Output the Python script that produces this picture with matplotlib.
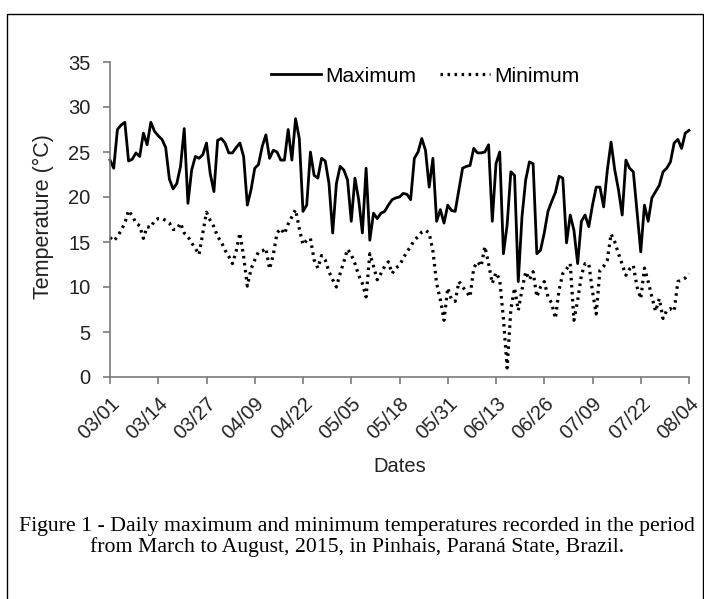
import numpy as np
import matplotlib
matplotlib.use("Agg")
import matplotlib.pyplot as plt
from matplotlib.patches import Rectangle

# daily values, 03/01 .. 08/04 (2015)
t_max = [
    24.1, 23.2, 27.5, 28.0, 28.3, 24.0, 24.2, 24.9, 24.5, 27.1,
    25.8, 28.3, 27.3, 26.8, 26.4, 25.5, 22.0, 20.9, 21.5, 23.4,
    27.6, 19.3, 23.0, 24.5, 24.3, 24.7, 26.0, 22.6, 20.6, 26.3,
    26.5, 26.0, 24.9, 24.9, 25.5, 26.0, 24.5, 19.1, 20.8, 23.2,
    23.6, 25.6, 26.9, 24.3, 25.2, 25.0, 24.1, 24.1, 27.5, 24.1,
    28.7, 26.5, 18.4, 19.1, 25.0, 22.4, 22.1, 24.3, 24.0, 21.5,
    16.0, 21.5, 23.4, 23.0, 21.9, 17.3, 22.1, 19.7, 16.0, 23.2,
    15.2, 18.2, 17.6, 18.2, 18.4, 19.1, 19.7, 19.9, 20.0, 20.4,
    20.3, 19.7, 24.3, 25.0, 26.5, 25.2, 21.1, 24.3, 17.3, 18.6,
    17.1, 19.1, 18.5, 18.4, 20.8, 23.2, 23.4, 23.5, 25.4, 24.9,
    24.9, 25.0, 25.8, 17.3, 23.7, 25.0, 13.7, 16.9, 22.8, 22.4,
    10.6, 17.8, 21.9, 23.9, 23.7, 13.7, 14.1, 16.0, 18.4, 19.5,
    20.5, 22.3, 22.1, 14.9, 18.0, 16.3, 12.6, 17.3, 18.0, 16.7,
    19.1, 21.1, 21.1, 18.9, 23.0, 26.1, 23.0, 20.8, 18.0, 24.1,
    23.2, 22.8, 18.4, 13.9, 19.1, 17.3, 19.9, 20.6, 21.3, 22.8,
    23.2, 23.9, 26.0, 26.4, 25.4, 27.1, 27.4,
]
t_min = [
    15.5, 15.1, 15.6, 16.3, 17.1, 18.5, 17.9, 17.1, 16.8, 15.4,
    16.7, 16.6, 17.4, 17.6, 17.6, 17.4, 17.1, 16.4, 16.4, 17.1,
    16.0, 15.6, 14.9, 14.3, 13.6, 16.0, 18.3, 17.4, 16.7, 15.6,
    15.0, 14.1, 13.4, 12.6, 14.0, 16.0, 13.4, 10.1, 12.0, 13.0,
    13.9, 14.0, 14.3, 12.0, 13.6, 16.0, 16.5, 15.9, 17.0, 17.8,
    18.6, 16.5, 14.7, 15.2, 15.4, 13.0, 12.1, 13.5, 13.0, 11.7,
    10.8, 10.0, 11.5, 12.8, 14.2, 13.6, 12.6, 11.3, 10.4, 8.9,
    13.7, 12.3, 10.8, 11.5, 12.3, 12.8, 11.5, 12.1, 12.4, 13.2,
    13.9, 14.5, 15.2, 15.6, 16.1, 16.3, 16.0, 14.0, 10.4, 8.6,
    6.3, 9.9, 8.6, 8.4, 10.6, 10.0, 9.5, 8.9, 12.1, 12.8,
    12.3, 14.5, 12.6, 10.4, 11.6, 10.8, 6.5, 1.0, 7.5, 9.9,
    7.4, 9.7, 11.7, 10.8, 11.7, 8.9, 10.0, 10.6, 8.9, 8.2,
    6.5, 9.7, 11.5, 12.0, 12.6, 6.3, 8.5, 11.3, 12.6, 12.6,
    9.5, 7.0, 11.9, 12.3, 13.0, 15.9, 15.0, 13.7, 12.5, 11.3,
    12.0, 12.4, 10.0, 8.7, 12.1, 10.6, 8.9, 7.3, 8.7, 6.5,
    7.4, 7.6, 7.3, 10.6, 10.8, 11.0, 11.5,
]
tick_labels = ["03/01", "03/14", "03/27", "04/09", "04/22", "05/05", "05/18",
               "05/31", "06/13", "06/26", "07/09", "07/22", "08/04"]
y_ticks = [0, 5, 10, 15, 20, 25, 30, 35]

plt.rcParams["font.family"] = ["Liberation Sans", "DejaVu Sans"]

W, H = 704, 599
fig = plt.figure(figsize=(W / 100, H / 100), dpi=100)

# frame around the figure (runs off the bottom edge like the scan)
fig.patches.append(Rectangle((7 / W, -0.05), (703 - 7) / W, 1.05 - 14 / H,
                             transform=fig.transFigure, fill=False,
                             edgecolor="black", linewidth=1.0))

ax = fig.add_axes([110 / W, 1 - 377 / H, (689 - 110) / W, (377 - 62) / H])

days = np.arange(len(t_max))
ax.plot(days, t_max, color="black", lw=2.0, label="Maximum", clip_on=False)
ax.plot(days, t_min, color="black", lw=2.3, linestyle=(0, (0.8, 1.4)),
        label="Minimum", clip_on=False)

ax.set_xlim(0, len(days) - 1)
ax.set_ylim(0, 35)
ax.set_xticks(np.arange(0, len(days), 13))
ax.set_xticklabels(tick_labels, rotation=45, ha="right",
                   rotation_mode="anchor", fontsize=14.5, color="#222222")
ax.set_yticks(y_ticks)
ax.set_yticklabels([str(v) for v in y_ticks], fontsize=14.5, color="#222222")

for side in ("top", "right"):
    ax.spines[side].set_visible(False)
for side in ("left", "bottom"):
    ax.spines[side].set_color("#7a7a7a")
    ax.spines[side].set_linewidth(1.2)
ax.tick_params(direction="out", length=5, width=1.2, color="#7a7a7a")
ax.tick_params(axis="y", pad=9)
ax.tick_params(axis="x", pad=7)

leg = ax.legend(loc="center", bbox_to_anchor=(0.545, 0.955), ncol=2,
                frameon=False, fontsize=15, handlelength=2.4,
                handletextpad=0.2, columnspacing=1.15)

fig.text(400 / W, 1 - 467 / H, "Dates", ha="center", va="center",
         fontsize=14.5, color="#222222")
fig.text(43 / W, 1 - 217 / H, "Temperature (°C)", ha="center", va="center",
         rotation=90, fontsize=15.5, color="#222222")

fig.text(357 / W, 1 - 537 / H,
         "Figure 1 - Daily maximum and minimum temperatures recorded in the period\n"
         "from March to August, 2015, in Pinhais, Paraná State, Brazil.",
         ha="center", va="center", fontsize=15.7, family="Liberation Serif",
         linespacing=1.12)

fig.savefig("out.png", dpi=100)
